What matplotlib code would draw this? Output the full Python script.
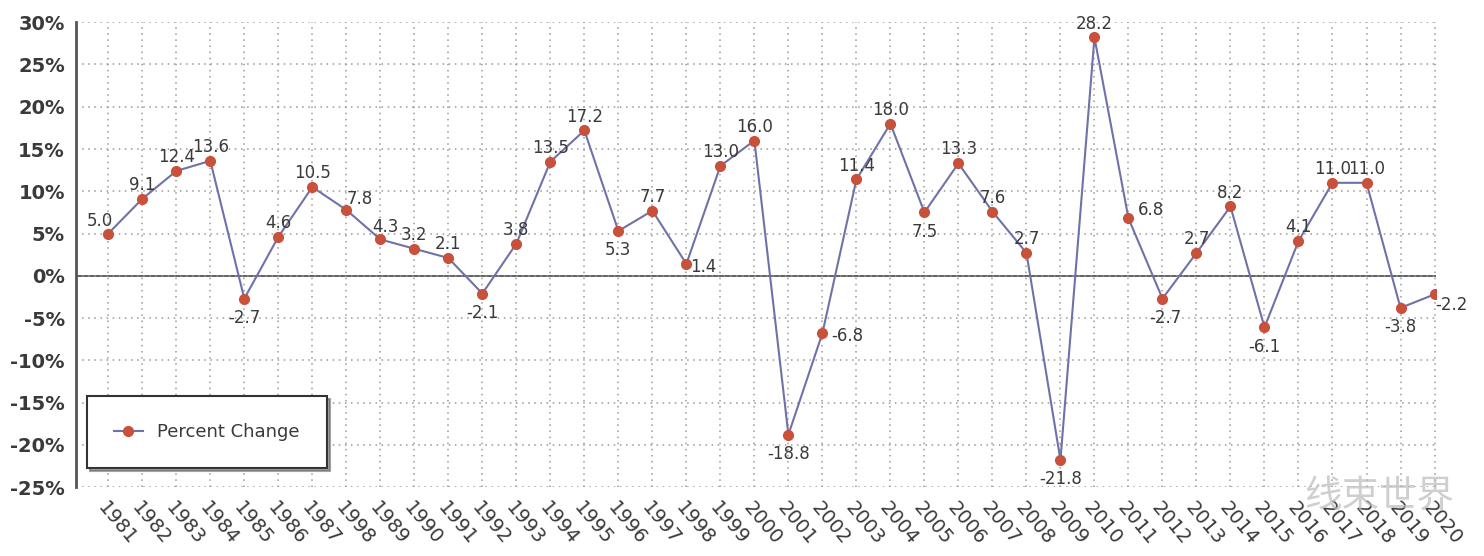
import matplotlib.pyplot as plt
from matplotlib.ticker import FuncFormatter

# yearly percent change
years = list(range(1981, 2021))
values = [5.0, 9.1, 12.4, 13.6, -2.7, 4.6, 10.5, 7.8, 4.3, 3.2,
          2.1, -2.1, 3.8, 13.5, 17.2, 5.3, 7.7, 1.4, 13.0, 16.0,
          -18.8, -6.8, 11.4, 18.0, 7.5, 13.3, 7.6, 2.7, -21.8, 28.2,
          6.8, -2.7, 2.7, 8.2, -6.1, 4.1, 11.0, 11.0, -3.8, -2.2]
# tick labels as printed (the original repeats "1998")
year_labels = [str(y) for y in years]
year_labels[7] = "1998"

LINE = "#6f72a8"
DOT = "#c9503a"
TXT = "#3a3a3a"

# label placement per point: (dx, dy) in points
offsets = {
    1981: (-6, 9), 1982: (0, 10), 1983: (0, 10), 1984: (0, 10),
    1985: (0, -14), 1987: (0, 10), 1988: (10, 8), 1989: (4, 9),
    1992: (0, -14), 1996: (0, -14), 1998: (12, -2), 2001: (0, -14),
    2002: (18, -2), 2005: (0, -14), 2008: (0, 10), 2009: (0, -14),
    2011: (16, 6), 2012: (2, -14), 2015: (0, -14), 2019: (0, -14),
    2020: (12, -8),
}

fig = plt.figure(figsize=(14.84, 5.56), dpi=100)
ax = fig.add_axes([0.0512, 0.124, 0.9166, 0.836])

ax.axhline(0, color="#555555", lw=1.3, zorder=1)
ax.plot(years, values, color=LINE, lw=1.5, zorder=2,
        marker="o", markersize=7, markerfacecolor=DOT, markeredgecolor=DOT,
        label="Percent Change")

for y, v in zip(years, values):
    dx, dy = offsets.get(y, (0, 10))
    ax.annotate(f"{v:.1f}", (y, v), xytext=(dx, dy), textcoords="offset points",
                ha="center", va="center", fontsize=12, color=TXT, zorder=3)

ax.set_xlim(1980.05, 2020.05)
ax.set_ylim(-25, 30)
ax.set_yticks(range(-25, 31, 5))
ax.yaxis.set_major_formatter(FuncFormatter(lambda v, p: f"{v:.0f}%"))
ax.set_xticks(years)
ax.set_xticklabels(year_labels, rotation=-50, ha="left", rotation_mode="anchor",
                   fontsize=14, color=TXT)
ax.tick_params(axis="y", labelsize=14, colors=TXT, length=0, pad=8)
ax.tick_params(axis="x", length=0, pad=8)
for t in ax.get_yticklabels():
    t.set_fontweight("semibold")

ax.grid(True, linestyle=(0, (1, 3)), color="#999999", lw=1.1)
for s in ("top", "right", "bottom"):
    ax.spines[s].set_visible(False)
ax.spines["left"].set_color("#555555")
ax.spines["left"].set_linewidth(2)

leg = ax.legend(loc="lower left", bbox_to_anchor=(0.008, 0.04), fontsize=13,
                frameon=True, fancybox=False, shadow=True, borderpad=1.5,
                handlelength=1.6, borderaxespad=0)
leg.get_frame().set_edgecolor("#333333")
leg.get_frame().set_linewidth(1.5)
for t in leg.get_texts():
    t.set_color(TXT)

# watermark from the source image
fig.text(0.879, 0.108, "线束世界", family=["Noto Sans CJK SC", "DejaVu Sans"],
         fontsize=27, color="#bbbbbb", alpha=0.7, ha="left", va="center")

fig.savefig("out.png", dpi=100)
